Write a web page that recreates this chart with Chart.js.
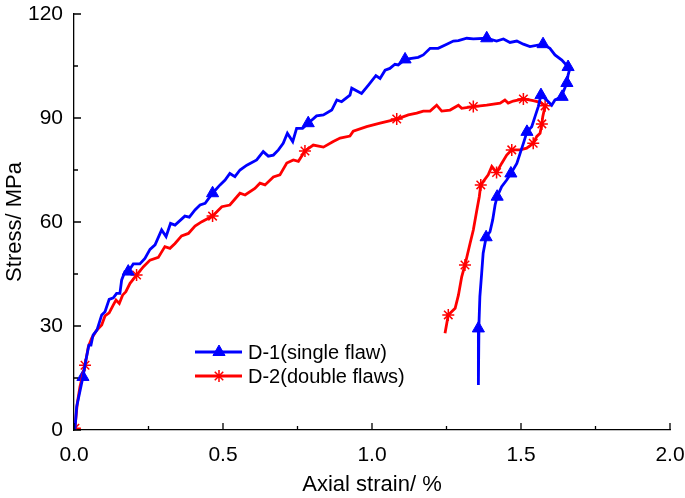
<!DOCTYPE html>
<html lang="en">
<head>
  <meta charset="UTF-8">
  <title>Stress-strain curves</title>
  <script src="https://cdn.jsdelivr.net/npm/chart.js"></script>
  <style>
    body { margin: 0; background: #fff; }
    .chart-container { position: relative; width: 685px; height: 498px; }
  </style>
</head>
<body>
  <div class="chart-container">
    <canvas id="stressChart"></canvas>
  </div>

  <script>
    // D-1 (single flaw) curve
    const d1Strain = [0.003, 0.009, 0.030, 0.040, 0.050, 0.057, 0.064, 0.077, 0.093, 0.104, 0.118, 0.132, 0.143, 0.154, 0.160, 0.171, 0.182, 0.199, 0.221, 0.238, 0.255, 0.272, 0.294, 0.309, 0.324, 0.339, 0.372, 0.387, 0.406, 0.423, 0.440, 0.465, 0.490, 0.507, 0.523, 0.540, 0.557, 0.580, 0.613, 0.635, 0.652, 0.669, 0.686, 0.702, 0.716, 0.734, 0.747, 0.767, 0.786, 0.814, 0.837, 0.865, 0.882, 0.898, 0.926, 0.932, 0.965, 0.988, 1.013, 1.027, 1.044, 1.060, 1.077, 1.088, 1.111, 1.155, 1.172, 1.195, 1.222, 1.251, 1.273, 1.290, 1.318, 1.340, 1.385, 1.418, 1.441, 1.463, 1.486, 1.508, 1.530, 1.574, 1.597, 1.614, 1.637, 1.658, 1.664, 1.658, 1.654, 1.642, 1.638, 1.614, 1.603, 1.586, 1.567, 1.558, 1.547, 1.536, 1.520, 1.508, 1.497, 1.486, 1.466, 1.452, 1.435, 1.420, 1.413, 1.405, 1.396, 1.383, 1.373, 1.368, 1.362, 1.359, 1.357, 1.357];
    const d1Stress = [0, 6.7, 15.3, 20.2, 24.5, 24.5, 27.4, 28.8, 33.2, 34.1, 37.7, 38.1, 39.4, 39.4, 43.3, 45.7, 45.7, 47.9, 47.9, 49.5, 52.1, 53.4, 57.7, 55.8, 59.6, 59.1, 61.7, 61.4, 63.5, 64.9, 65.4, 68.3, 70.7, 72.1, 74.0, 73.1, 75.0, 76.4, 77.9, 80.3, 79.0, 79.3, 80.8, 82.7, 85.6, 83.2, 87.0, 87.0, 88.5, 90.6, 90.9, 92.3, 95.2, 94.7, 96.6, 98.6, 97.1, 99.5, 102.2, 101.4, 103.8, 104.3, 105.5, 105.3, 106.9, 107.5, 108.2, 110.1, 110.1, 111.3, 112.2, 112.3, 113.0, 112.8, 113.0, 112.2, 112.8, 111.8, 112.2, 111.3, 110.6, 111.3, 110.1, 108.2, 106.7, 104.7, 104.3, 102.4, 100.1, 97.6, 96.1, 95.2, 93.7, 95.2, 96.6, 93.3, 90.4, 87.5, 86.0, 82.7, 79.8, 76.9, 74.0, 72.1, 70.2, 67.3, 64.9, 60.6, 57.2, 55.6, 51.0, 45.2, 38.5, 30.8, 29.3, 13.0];
    const d1MarkStrain = [0.030, 0.182, 0.465, 0.786, 1.111, 1.385, 1.574, 1.658, 1.654, 1.638, 1.567, 1.520, 1.466, 1.420, 1.383, 1.357];
    const d1MarkStress = [15.3, 45.7, 68.3, 88.5, 106.9, 113.0, 111.3, 104.7, 100.1, 96.1, 96.6, 86.0, 74.0, 67.3, 55.6, 29.3];

    // D-2 (double flaws) curve
    const d2Strain = [0.003, 0.011, 0.020, 0.037, 0.048, 0.059, 0.076, 0.093, 0.104, 0.118, 0.132, 0.141, 0.152, 0.163, 0.174, 0.188, 0.210, 0.233, 0.255, 0.283, 0.305, 0.322, 0.339, 0.361, 0.384, 0.406, 0.429, 0.465, 0.496, 0.523, 0.557, 0.574, 0.607, 0.624, 0.641, 0.669, 0.691, 0.714, 0.736, 0.753, 0.775, 0.803, 0.837, 0.870, 0.893, 0.926, 0.937, 0.982, 1.027, 1.083, 1.122, 1.150, 1.172, 1.195, 1.217, 1.234, 1.262, 1.290, 1.301, 1.340, 1.385, 1.430, 1.446, 1.457, 1.474, 1.508, 1.541, 1.564, 1.581, 1.573, 1.570, 1.564, 1.553, 1.541, 1.519, 1.497, 1.469, 1.452, 1.435, 1.418, 1.402, 1.390, 1.365, 1.360, 1.351, 1.340, 1.329, 1.312, 1.301, 1.290, 1.279, 1.256, 1.251, 1.245];
    const d2Stress = [0.5, 7.7, 12.5, 18.7, 24.0, 26.4, 28.8, 30.3, 32.9, 33.8, 36.1, 37.5, 36.5, 38.9, 39.9, 42.3, 44.7, 47.1, 49.0, 49.8, 52.9, 52.4, 53.8, 56.0, 56.7, 58.8, 60.1, 61.7, 64.4, 64.9, 68.3, 67.8, 69.7, 71.2, 70.7, 73.0, 73.6, 77.0, 77.9, 77.5, 80.5, 82.2, 81.6, 83.2, 84.2, 84.8, 86.2, 87.5, 88.5, 89.7, 90.9, 91.4, 92.0, 92.0, 93.7, 92.0, 92.3, 93.7, 92.8, 93.3, 93.7, 94.3, 95.2, 94.3, 94.9, 95.5, 95.0, 94.5, 93.5, 90.4, 88.3, 85.6, 84.7, 82.7, 81.3, 80.8, 80.8, 79.3, 76.9, 74.3, 76.0, 73.6, 70.7, 67.3, 63.0, 57.7, 53.8, 47.6, 44.2, 38.9, 35.1, 33.2, 30.8, 27.9];
    const d2MarkStrain = [0.003, 0.037, 0.210, 0.465, 0.775, 1.083, 1.340, 1.508, 1.581, 1.570, 1.541, 1.469, 1.418, 1.365, 1.312, 1.256];
    const d2MarkStress = [0.5, 18.7, 44.7, 61.7, 80.5, 89.7, 93.3, 95.5, 93.5, 88.3, 82.7, 80.8, 74.3, 70.7, 47.6, 33.2];

    const xTicks = [0, 0.5, 1.0, 1.5, 2.0];
    const yTicks = [0, 30, 60, 90, 120];
    const seriesNames = ['D-1(single flaw)', 'D-2(double flaws)'];

    const BLUE = '#0000ff';
    const RED = '#ff0000';
    const FONT = 'Liberation Sans, Arial, sans-serif';

    function toPoints(xs, ys) {
      return xs.map((x, i) => ({ x: x, y: ys[i] }));
    }

    // ticks pointing into the plot, with minor ticks in between
    const inwardTicks = {
      id: 'inwardTicks',
      afterDraw(chart) {
        const ctx = chart.ctx;
        const xs = chart.scales.x, ys = chart.scales.y;
        const area = chart.chartArea;
        ctx.save();
        ctx.strokeStyle = '#000';
        ctx.lineWidth = 1.3;
        ctx.beginPath();
        for (let v = 0; v <= 2.0001; v += 0.25) {
          const px = xs.getPixelForValue(v);
          const len = Math.abs(v / 0.5 - Math.round(v / 0.5)) < 1e-6 ? 7 : 4;
          ctx.moveTo(px, area.bottom);
          ctx.lineTo(px, area.bottom - len);
        }
        for (let v = 0; v <= 120.001; v += 15) {
          const py = ys.getPixelForValue(v);
          const len = v % 30 === 0 ? 7 : 4;
          ctx.moveTo(area.left, py);
          ctx.lineTo(area.left + len, py);
        }
        ctx.stroke();
        ctx.restore();
      }
    };

    // legend with line + marker
    const lineLegend = {
      id: 'lineLegend',
      afterDraw(chart) {
        const ctx = chart.ctx;
        const area = chart.chartArea;
        const items = [
          { color: BLUE, style: 'triangle', radius: 7, width: 1 },
          { color: RED, style: 'star', radius: 6, width: 1.5 }
        ];
        ctx.save();
        items.forEach((it, i) => {
          const y = area.top + 338 + i * 24;
          const x0 = area.left + 121;
          ctx.strokeStyle = it.color;
          ctx.lineWidth = 2.8;
          ctx.beginPath();
          ctx.moveTo(x0, y);
          ctx.lineTo(x0 + 47, y);
          ctx.stroke();
          ctx.fillStyle = it.color;
          ctx.lineWidth = it.width;
          Chart.helpers.drawPoint(ctx, { pointStyle: it.style, radius: it.radius, rotation: 0, borderWidth: it.width }, x0 + 24, y);
          ctx.fillStyle = '#000';
          ctx.font = '20px ' + FONT;
          ctx.textBaseline = 'middle';
          ctx.textAlign = 'left';
          ctx.fillText(seriesNames[i], x0 + 53, y + 1);
        });
        ctx.restore();
      }
    };

    const ctx = document.getElementById('stressChart').getContext('2d');
    const chart = new Chart(ctx, {
      type: 'scatter',
      data: {
        datasets: [
          {
            label: seriesNames[0],
            data: toPoints(d1Strain, d1Stress),
            showLine: true,
            borderColor: BLUE,
            borderWidth: 2.8,
            pointRadius: 0,
            tension: 0
          },
          {
            label: seriesNames[1],
            data: toPoints(d2Strain, d2Stress),
            showLine: true,
            borderColor: RED,
            borderWidth: 2.8,
            pointRadius: 0,
            tension: 0
          },
          {
            label: 'D-1 markers',
            data: toPoints(d1MarkStrain, d1MarkStress),
            showLine: false,
            pointStyle: 'triangle',
            pointRadius: 7,
            backgroundColor: BLUE,
            borderColor: BLUE,
            borderWidth: 1
          },
          {
            label: 'D-2 markers',
            data: toPoints(d2MarkStrain, d2MarkStress),
            showLine: false,
            pointStyle: 'star',
            pointRadius: 6,
            backgroundColor: RED,
            borderColor: RED,
            borderWidth: 1.5
          }
        ]
      },
      options: {
        responsive: true,
        maintainAspectRatio: false,
        animation: false,
        layout: { padding: { top: 14, right: 15, left: 0, bottom: 0 } },
        plugins: {
          legend: { display: false },
          tooltip: { enabled: false }
        },
        scales: {
          x: {
            type: 'linear',
            min: 0,
            max: 2,
            afterFit: s => {
              s.height = 68;
              s.paddingLeft = 0;
              s.paddingRight = 0;
            },
            afterBuildTicks: s => { s.ticks = xTicks.map(v => ({ value: v })); },
            grid: { display: false, drawTicks: false },
            border: { display: true, color: '#000', width: 1.3 },
            ticks: {
              color: '#000',
              padding: 13,
              font: { family: FONT, size: 21 },
              callback: v => v.toFixed(1)
            },
            title: {
              display: true,
              text: 'Axial strain/ %',
              color: '#000',
              font: { family: FONT, size: 22 },
              padding: { top: 4, bottom: 0 }
            }
          },
          y: {
            type: 'linear',
            min: 0,
            max: 120,
            afterFit: s => {
              s.width = 74;
              s.paddingTop = 0;
              s.paddingBottom = 0;
            },
            afterBuildTicks: s => { s.ticks = yTicks.map(v => ({ value: v })); },
            grid: { display: false, drawTicks: false },
            border: { display: true, color: '#000', width: 1.3 },
            ticks: {
              color: '#000',
              padding: 11,
              font: { family: FONT, size: 21 }
            },
            title: {
              display: true,
              text: 'Stress/ MPa',
              color: '#000',
              font: { family: FONT, size: 22 },
              padding: { top: 2, bottom: 0 }
            }
          }
        }
      },
      plugins: [inwardTicks, lineLegend]
    });
  </script>
</body>
</html>
